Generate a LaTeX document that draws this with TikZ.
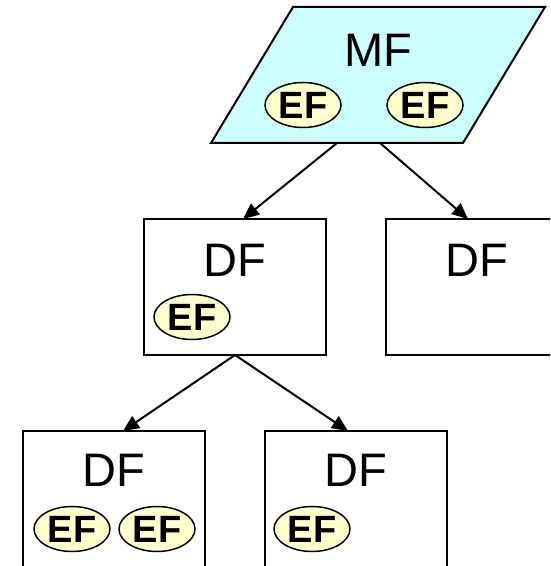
\documentclass[tikz,border=0pt]{standalone}
\usepackage{fontspec}
\setmainfont{Liberation Sans}
\usetikzlibrary{shapes.geometric}
\usetikzlibrary{arrows.meta}
\definecolor{mfFill}{rgb}{0.8,1,1}
\definecolor{efFill}{rgb}{1,1,0.8}
\tikzset{
  mfbox/.style={minimum width=334pt,minimum height=136pt,inner sep=0pt,outer sep=0pt},
  dfbox/.style={draw=black,line width=2pt,minimum width=182pt,minimum height=136pt,inner sep=0pt,outer sep=0pt},
  dftext/.style={inner sep=0pt,font=\fontsize{47}{50}\selectfont},
  ef/.style={ellipse,draw=black,line width=1.5pt,fill=efFill,minimum width=76pt,minimum height=45pt,
    inner sep=0pt,font=\fontsize{38}{40}\selectfont\bfseries},
  link/.style={line width=2pt,-{Triangle[length=16pt,width=14pt]}}
}

\begin{document}
\begin{tikzpicture}[x=1pt,y=1pt]
    \useasboundingbox (0,0) rectangle (550,566);
    \clip (0,0) rectangle (550,566);

    % draw master file (slanted box)
    \node[mfbox] (mf) at (378,491) {};
    \draw[line width=2pt,fill=mfFill] (mf.south west) -- ([xshift=-82pt]mf.south east)
        -- (mf.north east) -- ([xshift=82pt]mf.north west) -- cycle;
    \node[dftext] (mfname) at (378,516) {MF};
    \node[ef] (efa) at (303,461) {EF};
    \node[ef] (efb) at (425,461) {EF};

    % draw dedicated files, second level
    \node[dfbox] (dfa) at (235,279) {};
    \node[dftext] (dfaname) at (235,306) {DF};
    \node[ef] (efc) at (192,249) {EF};

    \node[dfbox] (dfb) at (477,279) {};
    \node[dftext] (dfbname) at (477,306) {DF};

    % draw dedicated files, third level
    \node[dfbox] (dfc) at (114,67) {};
    \node[dftext] (dfcname) at (114,96) {DF};
    \node[ef] (efd) at (72,37) {EF};
    \node[ef] (efe) at (157,37) {EF};

    \node[dfbox] (dfd) at (356,67) {};
    \node[dftext] (dfdname) at (356,96) {DF};
    \node[ef] (eff) at (312,37) {EF};

    % draw links
    \draw[link] ([xshift=-41pt]mf.south) -- ([xshift=8pt]dfa.north);
    \draw[link] ([xshift=2pt]mf.south) -- ([xshift=-9pt]dfb.north);
    \draw[link] (dfa.south) -- ([xshift=9pt]dfc.north);
    \draw[link] (dfa.south) -- ([xshift=-8pt]dfd.north);
\end{tikzpicture}
\end{document}
